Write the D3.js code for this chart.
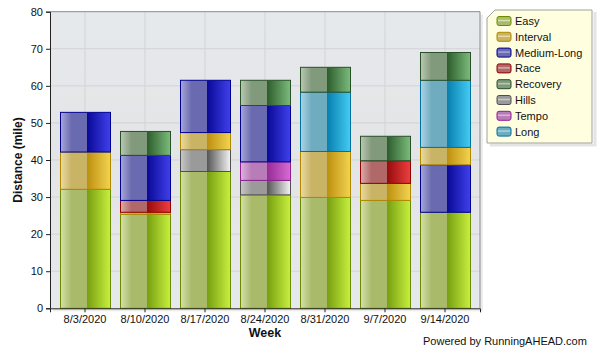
<!DOCTYPE html>
<html><head><meta charset="utf-8">
<script src="https://cdn.jsdelivr.net/npm/d3@7"></script>
<style>body{margin:0;background:#fff}svg{display:block;font-family:"Liberation Sans",Arial,sans-serif}</style>
</head><body><svg id="c" width="600" height="350"></svg>
<script>
const weeks = ["8/3/2020","8/10/2020","8/17/2020","8/24/2020","8/31/2020","9/7/2020","9/14/2020"];
const types = ["Easy","Interval","Medium-Long","Race","Recovery","Hills","Tempo","Long"];
const easy       = [32.1, 25.35, 36.9, 30.6, 29.9, 29.1, 25.9];
const interval   = [10.05, 0.55, 4.6, 0, 12.4, 4.6, 4.7];
const mediumLong = [10.7, 12.15, 14.1, 15.2, 0, 0, 12.8];
const race       = [0, 3.2, 0, 0, 0, 6.1, 0];
const recovery   = [0, 6.45, 0, 6.8, 6.7, 6.6, 7.5];
const hills      = [0, 0, 5.9, 3.9, 0, 0, 0];
const tempo      = [0, 0, 0, 5.0, 0, 0, 0];
const long       = [0, 0, 0, 0, 16.0, 0, 18.1];
const stackOrder = [
  ["Easy","Interval","Medium-Long"],
  ["Easy","Interval","Race","Medium-Long","Recovery"],
  ["Easy","Hills","Interval","Medium-Long"],
  ["Easy","Hills","Tempo","Medium-Long","Recovery"],
  ["Easy","Interval","Long","Recovery"],
  ["Easy","Interval","Race","Recovery"],
  ["Easy","Medium-Long","Interval","Long","Recovery"]
];
const yTicks = [0,10,20,30,40,50,60,70,80];
const values = {"Easy":easy,"Interval":interval,"Medium-Long":mediumLong,"Race":race,"Recovery":recovery,"Hills":hills,"Tempo":tempo,"Long":long};

// styles: [light-left, mid, dark, bright-right, border]
const styles = {
  "Easy":["#d6e0ac","#a9bb6a","#78a010","#c8f040","#6b8a00"],
  "Interval":["#eadba4","#c9b466","#bf9010","#f2d452","#b08800"],
  "Medium-Long":["#a8a8d8","#6a6ab0","#0a0a98","#4040ec","#000090"],
  "Race":["#dcacac","#b06868","#980c0c","#ec4040","#900000"],
  "Recovery":["#bcc8b4","#829a7c","#2e5e2e","#7cbc7c","#285028"],
  "Hills":["#c8c8c8","#9a9a9a","#585858","#f4f4f4","#505050"],
  "Tempo":["#dcb4dc","#b87cb8","#982c98","#d86cd4","#902090"],
  "Long":["#acd4e4","#70acc0","#0880b0","#44ccf4","#0070a0"]
};

const svg = d3.select("#c");
const defs = svg.append("defs");
types.forEach((t,i)=>{
  const s = styles[t];
  const g = defs.append("linearGradient").attr("id","g"+i).attr("x1","0").attr("x2","1").attr("y1","0").attr("y2","0");
  [[0,s[0]],[0.22,s[1]],[0.53,s[1]],[0.54,s[2]],[1,s[3]]].forEach(([o,c])=>g.append("stop").attr("offset",o).attr("stop-color",c));
});
const bg = defs.append("linearGradient").attr("id","bg").attr("x1",0).attr("x2",0).attr("y1",0).attr("y2",1);
bg.append("stop").attr("offset",0).attr("stop-color","#e6e9ec");
bg.append("stop").attr("offset",0.5).attr("stop-color","#e3e4e6");
bg.append("stop").attr("offset",1).attr("stop-color","#e6e9ec");

const L=50,R=480,T=11.7,B=308.3;
const x = d3.scaleBand().domain(weeks).range([L,R]).paddingInner(1/6).paddingOuter(1/6);
const y = d3.scaleLinear().domain([0,80]).range([B,T]);

// shadow
svg.append("rect").attr("x",L+3).attr("y",T+3).attr("width",R-L).attr("height",B-T).attr("fill","#ececec");
svg.append("rect").attr("x",L).attr("y",T).attr("width",R-L).attr("height",B-T).attr("fill","url(#bg)");

// grid
svg.append("g").selectAll("line").data(yTicks.slice(1,-1)).join("line")
  .attr("x1",L).attr("x2",R).attr("y1",d=>y(d)).attr("y2",d=>y(d)).attr("stroke","#d2d3d5");
svg.append("g").selectAll("line").data(weeks).join("line")
  .attr("x1",d=>x(d)+x.bandwidth()/2).attr("x2",d=>x(d)+x.bandwidth()/2).attr("y1",T).attr("y2",B).attr("stroke","#d2d3d5");

// bars
const segs=[];
weeks.forEach((w,i)=>{
  let acc=0;
  stackOrder[i].forEach(t=>{
    const v=values[t][i];
    if(v>0){segs.push({w,t,y0:acc,y1:acc+v});acc+=v;}
  });
});
svg.append("g").selectAll("rect").data(segs).join("rect")
  .attr("x",d=>x(d.w)+0.5).attr("width",x.bandwidth())
  .attr("y",d=>y(d.y1)).attr("height",d=>y(d.y0)-y(d.y1))
  .attr("fill",d=>"url(#g"+types.indexOf(d.t)+")")
  .attr("stroke",d=>styles[d.t][4]).attr("stroke-width",1);

// plot border
svg.append("line").attr("x1",L).attr("x2",R).attr("y1",T).attr("y2",T).attr("stroke","#8a8a8a");
svg.append("line").attr("x1",R).attr("x2",R).attr("y1",T).attr("y2",B).attr("stroke","#8a8a8a");

// axes
const ya = svg.append("g").attr("transform",`translate(${L},0)`)
  .call(d3.axisLeft(y).tickValues(yTicks).tickSize(4).tickPadding(3));
const xa = svg.append("g").attr("transform",`translate(0,${B})`)
  .call(d3.axisBottom(x).tickSize(4).tickPadding(3));
[ya,xa].forEach(a=>{a.selectAll("path,line").attr("stroke","#222");a.selectAll("text").attr("font-size",11).attr("fill","#111").attr("font-family","Liberation Sans, Arial, sans-serif");});

svg.append("text").attr("transform","translate(22,160) rotate(-90)").attr("text-anchor","middle")
  .attr("font-size",12).attr("font-weight","bold").attr("fill","#111").text("Distance (mile)");
svg.append("text").attr("x",265).attr("y",337).attr("text-anchor","middle")
  .attr("font-size",12.5).attr("font-weight","bold").attr("fill","#111").text("Week");
svg.append("text").attr("x",423).attr("y",345).attr("font-size",11).attr("fill","#111").text("Powered by RunningAHEAD.com");

// legend
const lx=487, ly=10, lw=105, lh=133;
svg.append("path").attr("d",`M${lx+3},${ly+lh+2} h${lw} v${-lh}`).attr("fill","none").attr("stroke","#e4e4e4").attr("stroke-width",3);
svg.append("path").attr("d",`M${lx+8},${ly} H${lx+lw} V${ly+lh} H${lx} V${ly+8} Z`)
  .attr("fill","#ffffe0").attr("stroke","#a0a0a0");
const li = svg.append("g").selectAll("g").data(types).join("g")
  .attr("transform",(d,i)=>`translate(${lx+10},${ly+11+i*15.8})`);
li.append("rect").attr("x",0).attr("y",-4.5).attr("width",14).attr("height",9).attr("rx",2)
  .attr("fill",d=>styles[d][1]).attr("stroke",d=>styles[d][4]);
li.append("line").attr("x1",1).attr("x2",13).attr("y1",-0.5).attr("y2",-0.5).attr("stroke",d=>styles[d][0]).attr("stroke-width",1.5);
li.append("text").attr("x",18).attr("y",4).attr("font-size",11).attr("fill","#111").text(d=>d);
</script></body></html>
